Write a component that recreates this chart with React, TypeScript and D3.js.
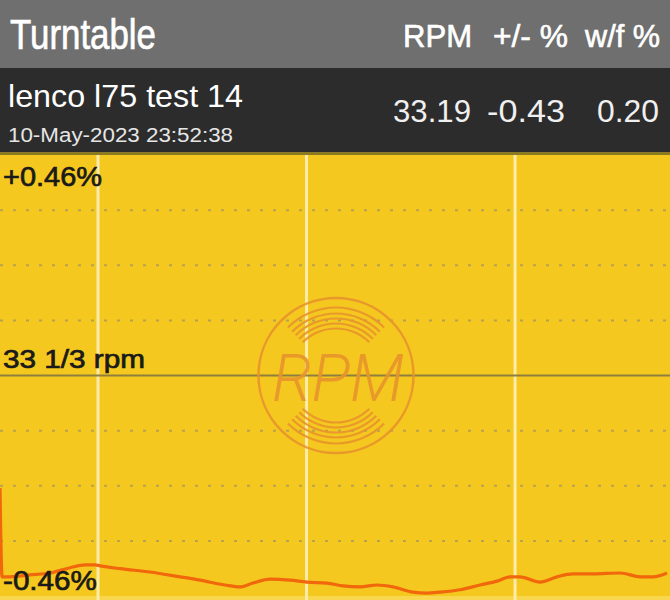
import React from "react";
import * as d3 from "d3";

// ---- data ----
const times = [0, 0.1, 0.48, 1.44, 2.4, 3.36, 4.08, 4.56, 4.8, 5.76, 7.19, 8.63, 9.59, 10.79, 11.51, 12.13, 12.95, 13.91, 14.72, 15.68, 16.45, 17.27, 18.08, 18.85, 19.81, 20.48, 21.1, 22.06, 23.02, 23.84, 24.46, 24.94, 25.9, 26.71, 27.48, 28.44, 29.74, 30.7, 31.32, 31.99];
const deviation = [-0.235, -0.42, -0.42, -0.416, -0.412, -0.401, -0.395, -0.395, -0.397, -0.403, -0.41, -0.42, -0.427, -0.437, -0.441, -0.433, -0.425, -0.427, -0.431, -0.433, -0.439, -0.441, -0.437, -0.441, -0.452, -0.454, -0.452, -0.447, -0.437, -0.429, -0.42, -0.42, -0.431, -0.42, -0.414, -0.414, -0.412, -0.42, -0.42, -0.412];
const timeGrid = [4.7, 14.7, 24.7];
const dottedLevels = [-0.345, -0.23, -0.115, 0.115, 0.23, 0.345];
const headerCols = ["RPM", "+/- %", "w/f %"];
const headerVals = ["33.19", "-0.43", "0.20"];
const title = "Turntable";
const testName = "lenco l75 test 14";
const timestamp = "10-May-2023 23:52:38";
const topLabel = "+0.46%";
const midLabel = "33 1/3 rpm";
const bottomLabel = "-0.46%";
const grooveRadii = [47, 52, 57, 62, 68];

const W = 670;
const H = 600;
const plotTop = 155;
const plotBottom = 596;

export default function App() {
  const x = d3.scaleLinear().domain([0, 32.13]).range([0, W]);
  const y = d3.scaleLinear().domain([-0.46, 0.46]).range([plotBottom, plotTop]);
  const line = d3
    .line<number>()
    .x((_, i) => x(times[i]))
    .y((d) => y(d))
    .curve(d3.curveMonotoneX);

  const cx = 336;
  const cy = y(0);
  const wmColor = "#e8952c";
  const arcGen = d3.arc<any>();
  const grooves: string[] = [];
  grooveRadii.forEach((r) => {
    grooves.push(
      arcGen({ innerRadius: r - 1.1, outerRadius: r + 1.1, startAngle: -Math.PI / 4, endAngle: Math.PI / 4 }) as string
    );
    grooves.push(
      arcGen({ innerRadius: r - 1.1, outerRadius: r + 1.1, startAngle: (3 * Math.PI) / 4, endAngle: (5 * Math.PI) / 4 }) as string
    );
  });

  const font = "'Liberation Sans', Arial, Helvetica, sans-serif";
  const colX = [[403, 69], [493, 75], [585, 75]];
  const valX = [[393, 78], [487, 78], [597, 62]];

  return (
    <svg width={W} height={H} style={{ position: "absolute", left: 0, top: 0 }} fontFamily={font}>
      {/* header */}
      <rect x={0} y={0} width={W} height={68} fill="#6f6f6f" />
      <rect x={0} y={68} width={W} height={85} fill="#2c2c2c" />
      <rect x={0} y={152} width={W} height={3} fill="#8a7a22" />
      <text x={10} y={49} fontSize={43} fill="#ffffff" stroke="#ffffff" strokeWidth={0.7} textLength={146} lengthAdjust="spacingAndGlyphs">{title}</text>
      {headerCols.map((c, i) => (
        <text key={c} x={colX[i][0]} y={47} fontSize={31} fill="#ffffff" stroke="#ffffff" strokeWidth={0.6} textLength={colX[i][1]} lengthAdjust="spacingAndGlyphs">{c}</text>
      ))}
      <text x={8} y={107} fontSize={32} fill="#ffffff" textLength={235} lengthAdjust="spacingAndGlyphs">{testName}</text>
      <text x={8} y={142} fontSize={20} fill="#e6e6e6" textLength={225} lengthAdjust="spacingAndGlyphs">{timestamp}</text>
      {headerVals.map((v, i) => (
        <text key={v} x={valX[i][0]} y={122} fontSize={31} fontWeight={300} fill="#f0f0f0" textLength={valX[i][1]} lengthAdjust="spacingAndGlyphs">{v}</text>
      ))}

      {/* plot */}
      <rect x={0} y={plotTop} width={W} height={H - plotTop} fill="#f5c81f" />
      <rect x={0} y={plotBottom} width={W} height={H - plotBottom} fill="#f8d64e" />
      {dottedLevels.map((l) => (
        <line key={l} x1={0} x2={W} y1={y(l)} y2={y(l)} stroke="#a8995c" strokeWidth={2} strokeDasharray="3 10" opacity={0.8} />
      ))}
      {timeGrid.map((t) => (
        <line key={t} x1={x(t)} x2={x(t)} y1={plotTop} y2={H} stroke="#fcebab" strokeWidth={3} />
      ))}
      <line x1={0} x2={W} y1={y(0)} y2={y(0)} stroke="#8e7f3c" strokeWidth={2} />

      {/* watermark */}
      <g opacity={0.9}>
        <circle cx={cx} cy={cy} r={77.5} fill="none" stroke={wmColor} strokeWidth={2.5} />
        <g transform={`translate(${cx},${cy})`}>
          {grooves.map((d, i) => (
            <path key={i} d={d} fill={wmColor} />
          ))}
        </g>
        <text x={cx + 2} y={cy + 25} textAnchor="middle" fontSize={66} fontStyle="italic" fontWeight={300} fontFamily="Roboto, 'Noto Sans', sans-serif" fill={wmColor} textLength={132} lengthAdjust="spacingAndGlyphs">RPM</text>
      </g>

      {/* data line */}
      <path d={line(deviation) as string} fill="none" stroke="#f0670c" strokeWidth={3.2} strokeLinejoin="round" />

      {/* labels */}
      <text x={3} y={186} fontSize={27} fill="#1a1a1a" stroke="#1a1a1a" strokeWidth={0.7} textLength={99} lengthAdjust="spacingAndGlyphs">{topLabel}</text>
      <text x={3} y={368} fontSize={25} fill="#1a1a1a" stroke="#1a1a1a" strokeWidth={0.7} textLength={142} lengthAdjust="spacingAndGlyphs">{midLabel}</text>
      <text x={3} y={590} fontSize={27} fill="#1a1a1a" stroke="#1a1a1a" strokeWidth={0.7} textLength={94} lengthAdjust="spacingAndGlyphs">{bottomLabel}</text>
    </svg>
  );
}
